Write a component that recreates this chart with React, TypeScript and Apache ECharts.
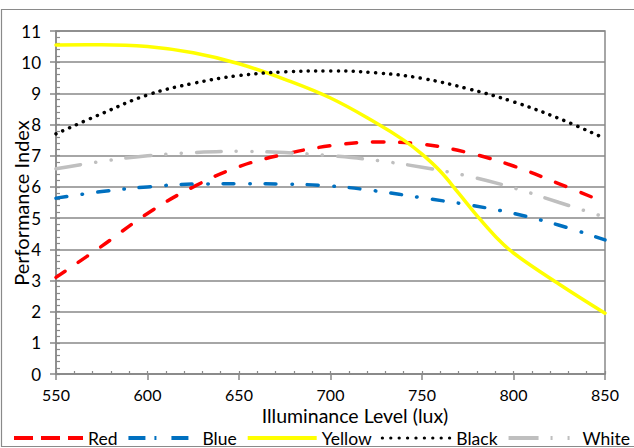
import { useEffect, useRef } from "react";
import * as echarts from "echarts";

const seriesNames = ["Red", "Blue", "Yellow", "Black", "White"];
const lux = [550, 575, 600, 625, 650, 675, 700, 725, 750, 775, 800, 825, 850];
const redValues = [3.1, 4.1, 5.15, 6.0, 6.65, 7.05, 7.32, 7.44, 7.37, 7.1, 6.67, 6.1, 5.5];
const blueValues = [5.64, 5.85, 6.0, 6.09, 6.1, 6.09, 6.03, 5.87, 5.65, 5.43, 5.15, 4.77, 4.3];
const blackValues = [7.7, 8.35, 8.95, 9.32, 9.57, 9.69, 9.72, 9.66, 9.48, 9.15, 8.73, 8.19, 7.55];
const whiteValues = [6.58, 6.82, 7.0, 7.1, 7.14, 7.1, 7.0, 6.85, 6.63, 6.35, 5.97, 5.5, 5.03];
const yellowLux = [550, 575, 600, 625, 650, 675, 700, 725, 740, 750, 760, 770, 780, 790, 800, 825, 850];
const yellowValues = [10.55, 10.56, 10.5, 10.3, 9.95, 9.45, 8.85, 8.05, 7.5, 7.05, 6.5, 5.8, 5.08, 4.42, 3.88, 2.88, 1.95];
const xTitle = "Illuminance Level (lux)";
const yTitle = "Performance Index";

const FONT = "Lato";
const GRID = "#898989";

function pairs(xs: number[], ys: number[]) {
  return xs.map((x, i) => [x, ys[i]]);
}

export default function App() {
  const ref = useRef<HTMLDivElement>(null);
  useEffect(() => {
    if (!ref.current) return;
    const chart = echarts.init(ref.current, undefined, { renderer: "svg" });
    const lineStyles: any[] = [
      { color: "#FF0000", width: 3.5, type: [11, 16], cap: "round" },
      { color: "#0070C0", width: 3.5, type: [11, 15.5, 0.5, 15], cap: "round" },
      { color: "#FFFF00", width: 3.5, type: "solid", cap: "round" },
      { color: "#000000", width: 3.5, type: [0.1, 7.4], cap: "round" },
      { color: "#BFBFBF", width: 3.5, type: [25, 15, 0.1, 15.5, 0.1, 15], cap: "round" },
    ];
    const legendStyles: any[] = [
      { color: "#FF0000", width: 4, type: [19, 8], cap: "butt" },
      { color: "#0070C0", width: 4, type: [17, 9, 2, 15], cap: "butt" },
      { color: "#FFFF00", width: 4, type: "solid", cap: "butt" },
      { color: "#000000", width: 3.2, type: [0.1, 8.3], cap: "round" },
      { color: "#BFBFBF", width: 4, type: [30, 12, 2, 15, 2, 20], cap: "butt" },
    ];
    const dataSets = [
      pairs(lux, redValues),
      pairs(lux, blueValues),
      pairs(yellowLux, yellowValues),
      pairs(lux, blackValues),
      pairs(lux, whiteValues),
    ];
    chart.setOption({
      animation: false,
      textStyle: { fontFamily: FONT },
      grid: {
        left: 56,
        right: 29,
        top: 31,
        bottom: 74,
        show: true,
        borderColor: GRID,
        borderWidth: 1.5,
      },
      xAxis: [
        {
          type: "value",
          min: 550,
          max: 850,
          interval: 50,
          axisLine: { show: true, lineStyle: { color: GRID, width: 1.5 } },
          axisTick: { show: true, inside: false, length: 6, lineStyle: { color: GRID, width: 1.5 } },
          axisLabel: { color: "#000", fontSize: 16, fontFamily: FONT, margin: 12 },
          splitLine: { show: false },
        },
        {
          type: "value",
          position: "bottom",
          min: 550,
          max: 850,
          interval: 10,
          axisLine: { show: false },
          axisTick: { show: true, inside: true, length: 3, lineStyle: { color: GRID, width: 1.2 } },
          axisLabel: { show: false },
          splitLine: { show: false },
        },
      ],
      yAxis: [
        {
          type: "value",
          min: 0,
          max: 11,
          interval: 1,
          axisLine: { show: true, lineStyle: { color: GRID, width: 1.5 } },
          axisTick: { show: true, inside: false, length: 6, lineStyle: { color: GRID, width: 1.5 } },
          axisLabel: { color: "#000", fontSize: 17, fontFamily: FONT, margin: 15 },
          splitLine: { show: true, lineStyle: { color: GRID, width: 1.5 } },
        },
        {
          type: "value",
          position: "left",
          min: 0,
          max: 11,
          interval: 0.2,
          axisLine: { show: false },
          axisTick: { show: true, inside: true, length: 4, lineStyle: { color: GRID, width: 1.2 } },
          axisLabel: { show: false },
          splitLine: { show: false },
        },
      ],
      legend: {
        left: 12,
        top: 429,
        width: 660,
        itemWidth: 69,
        itemHeight: 10,
        itemGap: 9,
        padding: 0,
        itemStyle: { opacity: 0 },
        textStyle: { color: "#000", fontSize: 17.5, fontFamily: FONT },
        data: seriesNames.map((n, i) => ({
          name: n,
          lineStyle: legendStyles[i],
          itemStyle: { opacity: 0 },
        })),
      },
      graphic: [
        {
          type: "rect",
          shape: { x: 1.5, y: 9.5, width: 700, height: 437 },
          style: { fill: "none", stroke: "#8a8a8a", lineWidth: 1.2 },
          silent: true,
          z: -10,
        },
        {
          type: "text",
          x: 355,
          y: 415.5,
          style: {
            text: xTitle,
            fontSize: 19.5,
            fontFamily: FONT,
            fill: "#000",
            textAlign: "center",
            textVerticalAlign: "middle",
          },
        },
        {
          type: "text",
          x: 21,
          y: 203,
          rotation: Math.PI / 2,
          style: {
            text: yTitle,
            fontSize: 20,
            fontFamily: FONT,
            fill: "#000",
            textAlign: "center",
            textVerticalAlign: "middle",
          },
        },
      ],
      series: seriesNames.map((n, i) => ({
        name: n,
        type: "line",
        data: dataSets[i],
        smooth: 0.4,
        symbol: "none",
        showSymbol: false,
        lineStyle: lineStyles[i],
        itemStyle: { color: lineStyles[i].color },
        emphasis: { disabled: true },
      })),
    });
    return () => chart.dispose();
  }, []);
  return (
    <div
      ref={ref}
      style={{ position: "absolute", left: 0, top: 0, width: 634, height: 448, background: "#fff" }}
    />
  );
}
